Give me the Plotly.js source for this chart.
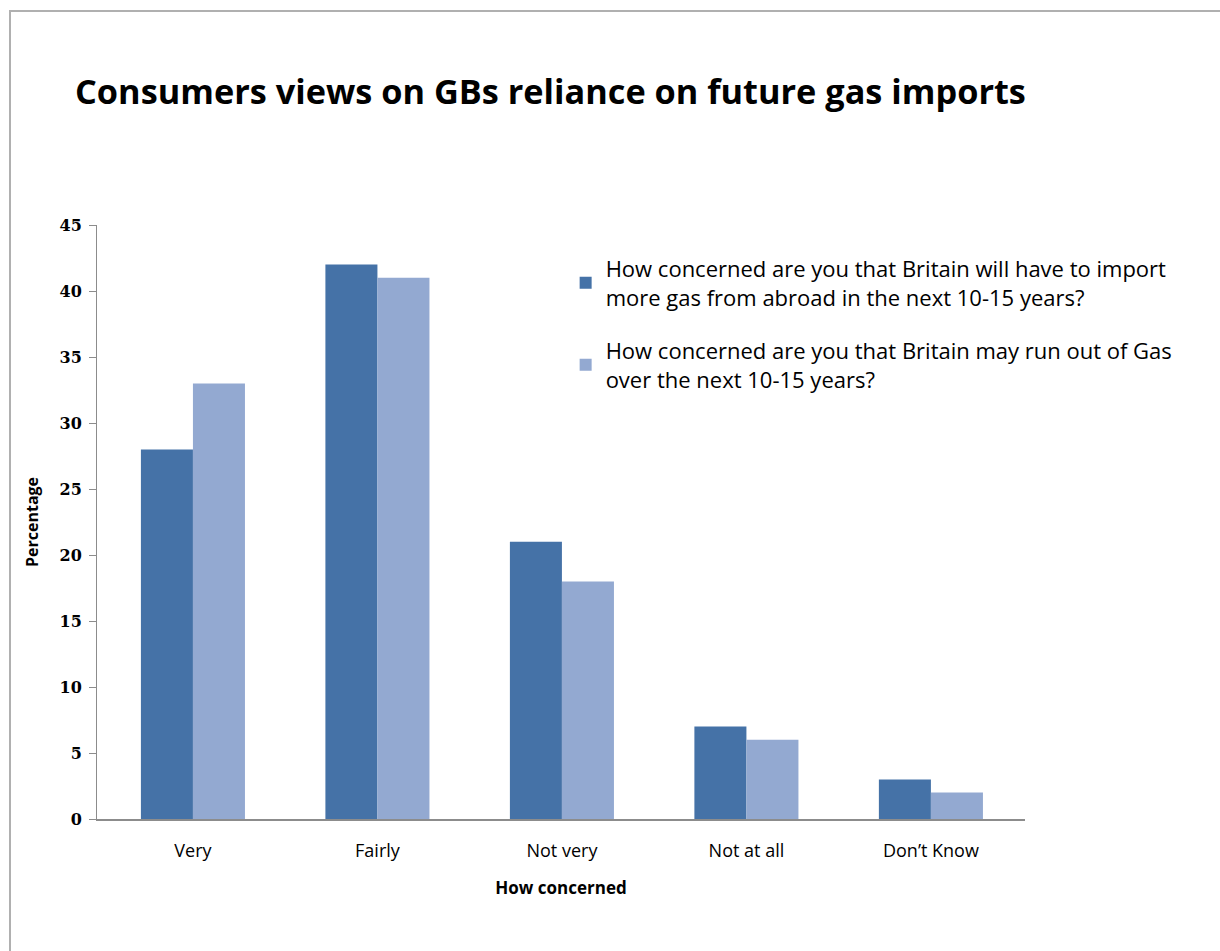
<!DOCTYPE html>
<html><head><meta charset="utf-8">
<script src="https://cdn.plot.ly/plotly-3.0.1.min.js"></script>
<style>
html,body{margin:0;padding:0;background:#fff;}
#frame{position:absolute;left:9px;top:10px;width:1211px;height:941px;border-left:2px solid #b0b0b0;border-top:2px solid #b0b0b0;box-sizing:border-box;}
#chart{position:absolute;left:0;top:0;width:1220px;height:951px;}
</style>
</head><body>
<div id="chart"></div>
<div id="frame"></div>
<script>
const categories = ["Very", "Fairly", "Not very", "Not at all", "Don\u2019t Know"];
const importConcern = [28, 42, 21, 7, 3];
const runOutConcern = [33, 41, 18, 6, 2];
const seriesNames = [
  "How concerned are you that Britain will have to import<br>more gas from abroad in the next 10-15 years?",
  "How concerned are you that Britain may run out of Gas<br>over the next 10-15 years?"
];
const yTicks = [0, 5, 10, 15, 20, 25, 30, 35, 40, 45];

const traces = [
  {type: "bar", x: categories, y: importConcern, name: seriesNames[0], legendgroup: "g1", marker: {color: "#4572A7"}},
  {type: "bar", x: categories, y: runOutConcern, name: seriesNames[1], legendgroup: "g2", marker: {color: "#93A9D1"}}
];

const layout = {
  width: 1220, height: 951,
  paper_bgcolor: "rgba(0,0,0,0)", plot_bgcolor: "#fff",
  margin: {l: 97, r: 195, t: 225, b: 132},
  barmode: "group", bargap: 0.436, bargroupgap: 0,
  showlegend: true,
  title: {text: "Consumers views on GBs reliance on future gas imports",
          font: {family: "Open Sans", size: 34.3, color: "#000", weight: "bold"},
          x: 75/1220, xanchor: "left", y: 1-92/951, yanchor: "middle"},
  xaxis: {
    range: [-0.52, 4.51],
    showline: true, linecolor: "#8c8c8c", linewidth: 2,
    ticks: "", showgrid: false, zeroline: false, ticklabelstandoff: 14,
    tickfont: {family: "Open Sans", size: 18, color: "#000"},
    title: {text: "How concerned", font: {family: "Open Sans", size: 17, color: "#000", weight: "bold"}, standoff: 22}
  },
  yaxis: {
    range: [0, 45], tickvals: yTicks, ticktext: yTicks.map(String),
    showline: true, linecolor: "#8c8c8c", linewidth: 1,
    ticks: "outside", ticklen: 7, tickcolor: "#8c8c8c", ticklabelstandoff: 4,
    showgrid: false, zeroline: false,
    tickfont: {family: "DejaVu Serif", size: 16, color: "#000", weight: "bold"},
    title: {text: "Percentage", font: {family: "Open Sans", size: 16, color: "#000", weight: "bold"}, standoff: 16}
  },
  legend: {
    x: 0.505, y: 0.962, xanchor: "left", yanchor: "top",
    bgcolor: "rgba(0,0,0,0)", itemwidth: 30, tracegroupgap: 22,
    font: {family: "Open Sans", size: 22, color: "#000"}
  }
};

Plotly.newPlot("chart", traces, layout, {displayModeBar: false});
</script>
</body></html>
